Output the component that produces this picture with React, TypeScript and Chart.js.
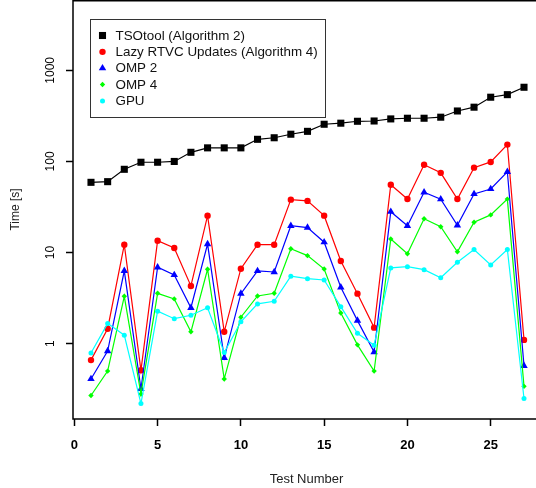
import React, { useEffect, useRef } from 'react';
import { Chart, registerables } from 'chart.js';

Chart.register(...registerables);

const tests = [1, 2, 3, 4, 5, 6, 7, 8, 9, 10, 11, 12, 13, 14, 15, 16, 17, 18, 19, 20, 21, 22, 23, 24, 25, 26, 27];
const tsotool = [59, 60, 82, 98, 98, 100, 126, 141, 141, 141, 175, 182, 199, 214, 256, 263, 276, 278, 293, 298, 298, 306, 358, 394, 507, 541, 652];
const lazyRtvc = [0.66, 1.46, 12.2, 0.51, 13.5, 11.2, 4.3, 25.4, 1.35, 6.65, 12.2, 12.2, 38.1, 36.9, 25.4, 8.09, 3.54, 1.5, 55.6, 38.7, 92, 75, 38.7, 85.5, 98.8, 153, 1.1];
const omp2 = [0.41, 0.83, 6.3, 0.32, 6.9, 5.68, 2.48, 12.4, 0.7, 3.54, 6.28, 6.12, 19.7, 18.8, 13.0, 4.16, 1.79, 0.81, 28.1, 19.7, 45.9, 38.5, 19.9, 44, 49.9, 77, 0.57];
const omp4 = [0.27, 0.5, 3.31, 0.28, 3.57, 3.1, 1.35, 6.56, 0.41, 1.95, 3.34, 3.57, 11.0, 9.25, 6.6, 2.17, 0.97, 0.5, 14.1, 9.7, 23.5, 19.2, 10.2, 21.5, 25.9, 38.6, 0.34];
const gpu = [0.79, 1.67, 1.24, 0.22, 2.27, 1.88, 2.05, 2.48, 0.8, 1.74, 2.73, 2.92, 5.5, 5.17, 5.0, 2.55, 1.3, 0.96, 6.78, 7.0, 6.49, 5.3, 7.83, 10.8, 7.31, 10.8, 0.25];

const seriesNames = ['TSOtool (Algorithm 2)', 'Lazy RTVC Updates (Algorithm 4)', 'OMP 2', 'OMP 4', 'GPU'];
const seriesColors = ['#000000', '#ff0000', '#0000ff', '#00ff00', '#00ffff'];
const seriesStyles = ['rect', 'circle', 'triangle', 'rectRot', 'circle'];
const seriesRadii = [5, 3.2, 4.3, 2.7, 2.5];

const xTickValues = [0, 5, 10, 15, 20, 25];
const xTickLabels = ['0', '5', '10', '15', '20', '25'];
const yTickValues = [1, 10, 100, 1000];
const yTickLabels = ['1', '10', '100', '1000'];
const xTitle = 'Test Number';
const yTitle = 'Time [s]';

const FONT = '"Liberation Sans", Arial, Helvetica, sans-serif';

function drawMarker(ctx: CanvasRenderingContext2D, style: string, x: number, y: number, r: number, color: string) {
  ctx.fillStyle = color;
  ctx.beginPath();
  if (style === 'rect') {
    const s = Math.SQRT1_2 * r;
    ctx.rect(x - s, y - s, 2 * s, 2 * s);
  } else if (style === 'circle') {
    ctx.arc(x, y, r, 0, Math.PI * 2);
  } else if (style === 'triangle') {
    for (let i = 0; i < 3; i++) {
      const a = (i * 2 * Math.PI) / 3;
      const px = x + Math.sin(a) * r;
      const py = y - Math.cos(a) * r;
      if (i === 0) ctx.moveTo(px, py);
      else ctx.lineTo(px, py);
    }
    ctx.closePath();
  } else if (style === 'rectRot') {
    ctx.moveTo(x - r, y);
    ctx.lineTo(x, y - r);
    ctx.lineTo(x + r, y);
    ctx.lineTo(x, y + r);
    ctx.closePath();
  }
  ctx.fill();
}

const decorPlugin = {
  id: 'decor',
  afterDraw(chart: any) {
    const { ctx, chartArea: a, scales } = chart;
    const xs = scales.x;
    const ys = scales.y;
    ctx.save();
    // box (left, top, bottom)
    ctx.strokeStyle = '#000';
    ctx.lineWidth = 1.5;
    ctx.beginPath();
    ctx.moveTo(a.right + 5, a.top + 0.75);
    ctx.lineTo(a.left, a.top + 0.75);
    ctx.lineTo(a.left, a.bottom);
    ctx.lineTo(a.right + 5, a.bottom);
    ctx.stroke();

    // y tick labels (rotated)
    ctx.fillStyle = '#000';
    ctx.font = '12px ' + FONT;
    ctx.textAlign = 'center';
    ctx.textBaseline = 'middle';
    yTickValues.forEach((v, i) => {
      const py = ys.getPixelForValue(v);
      ctx.save();
      ctx.translate(a.left - 22, py);
      ctx.rotate(-Math.PI / 2);
      ctx.fillText(yTickLabels[i], 0, 0);
      ctx.restore();
    });

    // x tick labels (bold)
    ctx.font = 'bold 13px ' + FONT;
    xTickValues.forEach((v, i) => {
      const px = xs.getPixelForValue(v);
      ctx.fillText(xTickLabels[i], px, a.bottom + 26.5);
    });

    // titles
    ctx.fillStyle = '#222';
    ctx.font = '13px ' + FONT;
    ctx.fillText(xTitle, 306.5, a.bottom + 60);
    ctx.save();
    ctx.font = '12px ' + FONT;
    ctx.translate(16, (a.top + a.bottom) / 2);
    ctx.rotate(-Math.PI / 2);
    ctx.fillText(yTitle, 0, 0);
    ctx.restore();

    // legend
    const bx = a.left + 17.5;
    const by = 19.5;
    const bw = 235;
    const bh = 98;
    ctx.fillStyle = '#fff';
    ctx.fillRect(bx, by, bw, bh);
    ctx.strokeStyle = '#333';
    ctx.lineWidth = 1;
    ctx.strokeRect(bx, by, bw, bh);
    ctx.font = '13.4px ' + FONT;
    ctx.textAlign = 'left';
    ctx.textBaseline = 'middle';
    seriesNames.forEach((name, i) => {
      const ry = by + 16 + i * 16.35;
      drawMarker(ctx, seriesStyles[i], bx + 12, ry, seriesRadii[i], seriesColors[i]);
      ctx.fillStyle = '#111';
      ctx.fillText(name, bx + 25, ry + 0.5);
    });
    ctx.restore();
  },
};

export default function App() {
  const ref = useRef<HTMLCanvasElement | null>(null);

  useEffect(() => {
    if (!ref.current) return;
    const allSeries = [tsotool, lazyRtvc, omp2, omp4, gpu];
    const datasets = allSeries.map((vals, i) => ({
      label: seriesNames[i],
      data: tests.map((t, j) => ({ x: t, y: vals[j] })),
      borderColor: seriesColors[i],
      backgroundColor: seriesColors[i],
      borderWidth: 1.2,
      pointStyle: seriesStyles[i],
      pointRadius: seriesRadii[i],
      pointBackgroundColor: seriesColors[i],
      pointBorderWidth: 0,
      showLine: true,
      tension: 0,
      order: allSeries.length - i,
    }));

    const chart = new Chart(ref.current, {
      type: 'scatter',
      data: { datasets },
      options: {
        animation: false,
        responsive: false,
        devicePixelRatio: 1,
        layout: { padding: 0, autoPadding: false },
        plugins: {
          legend: { display: false },
          tooltip: { enabled: false },
        },
        scales: {
          x: {
            type: 'linear',
            position: 'bottom',
            min: -0.08,
            max: 27.72,
            afterBuildTicks: (s: any) => {
              s.ticks = xTickValues.map((v) => ({ value: v }));
            },
            afterFit: (s: any) => {
              s.height = 69;
            },
            ticks: { display: false },
            grid: {
              drawOnChartArea: false,
              drawTicks: true,
              tickLength: 7,
              tickColor: '#000',
              tickWidth: 1.5,
            },
            border: { display: false },
          },
          y: {
            type: 'logarithmic',
            position: 'left',
            min: 0.149,
            max: 5916,
            afterBuildTicks: (s: any) => {
              s.ticks = yTickValues.map((v) => ({ value: v }));
            },
            afterFit: (s: any) => {
              s.width = 73;
            },
            ticks: { display: false },
            grid: {
              drawOnChartArea: false,
              drawTicks: true,
              tickLength: 7,
              tickColor: '#000',
              tickWidth: 1.5,
            },
            border: { display: false },
          },
        },
      } as any,
      plugins: [decorPlugin],
    });
    return () => chart.destroy();
  }, []);

  return (
    <div style={{ position: 'fixed', left: 0, top: 0, width: 536, height: 488, overflow: 'hidden', background: '#fff' }}>
      <canvas ref={ref} width={536} height={488} style={{ width: 536, height: 488, display: 'block' }} />
    </div>
  );
}
